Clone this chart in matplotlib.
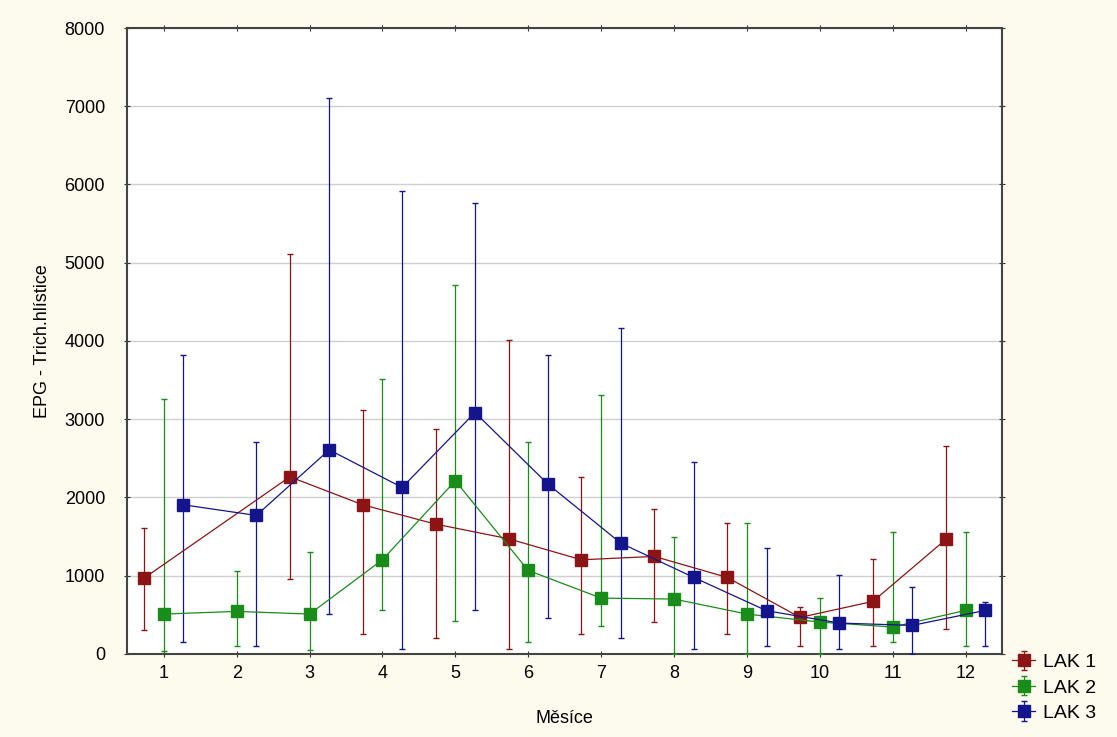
import matplotlib.pyplot as plt
import numpy as np

plt.rcParams['font.family'] = ['Liberation Sans', 'DejaVu Sans']

months = list(range(1, 13))
names = ['LAK 1', 'LAK 2', 'LAK 3']
colors = ['#8c1414', '#1a8c1a', '#14148c']
offsets = [-0.27, 0.0, 0.27]

# means, upper and lower error-bar ends (None = no value)
lak1_mean = [967, None, 2262, 1904, 1657, 1470, 1201, 1244, 976, 464, 669, 1461]
lak1_hi = [1606, None, 5112, 3114, 2867, 4013, 2254, 1853, 1666, 597, 1210, 2662]
lak1_lo = [307, None, 954, 256, 200, 60, 256, 400, 256, 102, 94, 315]

lak2_mean = [507, 541, 507, 1201, 2211, 1065, 711, 699, 507, 405, 341, 554]
lak2_hi = [3259, 1052, 1303, 3510, 4716, 2702, 3310, 1495, 1666, 711, 1551, 1551]
lak2_lo = [30, 94, 50, 562, 422, 145, 349, 0, 0, 0, 145, 94]

lak3_mean = [1904, 1768, 2607, 2126, 3084, 2169, 1414, 976, 550, 392, 362, 554]
lak3_hi = [3821, 2702, 7101, 5921, 5759, 3821, 4162, 2449, 1350, 1010, 852, 656]
lak3_lo = [145, 94, 507, 60, 562, 456, 200, 60, 102, 60, 0, 94]

series = [(lak1_mean, lak1_hi, lak1_lo),
          (lak2_mean, lak2_hi, lak2_lo),
          (lak3_mean, lak3_hi, lak3_lo)]

bg = '#fdfaee'
fig = plt.figure(figsize=(11.17, 7.37), dpi=100, facecolor=bg)
ax = fig.add_axes([0.114, 0.113, 0.783, 0.849])
ax.set_facecolor('white')

for name, col, off, (mean, hi, lo) in zip(names, colors, offsets, series):
    xs = [m + off for m, v in zip(months, mean) if v is not None]
    ys = np.array([v for v in mean if v is not None], dtype=float)
    his = np.array([v for v in hi if v is not None], dtype=float)
    los = np.array([v for v in lo if v is not None], dtype=float)
    ax.errorbar(xs, ys, yerr=[ys - los, his - ys], fmt='s-', color=col,
                lw=0.9, elinewidth=0.9, capsize=2.5, capthick=1.0,
                markersize=8, markeredgecolor=col, label=name, zorder=3)

ax.set_xlim(0.5, 12.5)
ax.set_ylim(0, 8000)
ax.set_xticks(months)
ax.set_yticks(range(0, 8001, 1000))
ax.yaxis.grid(True, color='#d0d0d0', lw=1)
ax.set_axisbelow(True)
ax.tick_params(axis='both', labelsize=13, color='#333333', length=4,
               direction='inout', top=True, right=True)
ax.tick_params(axis='y', pad=14)
ax.tick_params(axis='x', pad=6)
for s in ax.spines.values():
    s.set_color('#444444')
    s.set_linewidth(1.5)

ax.set_xlabel('Měsíce', fontsize=13, labelpad=20)
ax.set_ylabel('EPG - Trich.hlístice', fontsize=13, labelpad=10)

ax.legend(loc='upper left', bbox_to_anchor=(0.996, 0.022), frameon=False,
          fontsize=14, handlelength=1.2, handletextpad=0.4,
          labelspacing=0.4, borderaxespad=0.3)

plt.savefig('out.png', dpi=100, facecolor=bg)
